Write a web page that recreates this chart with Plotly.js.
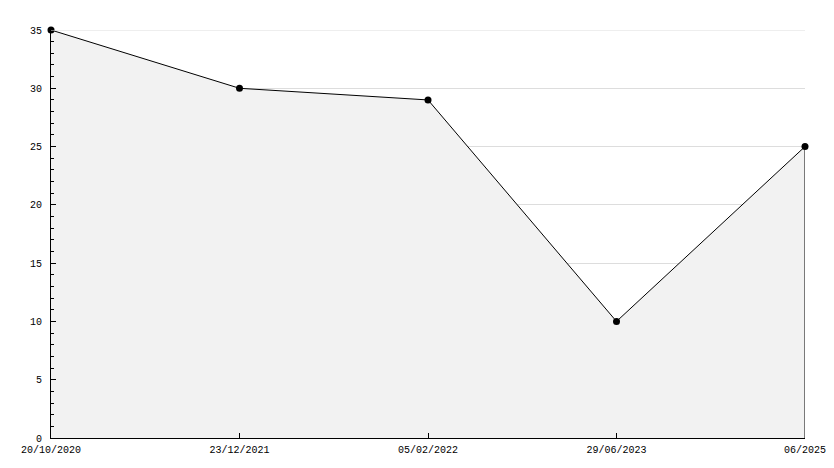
<!DOCTYPE html>
<html>
<head>
<meta charset="utf-8">
<script src="https://cdn.plot.ly/plotly-3.0.1.min.js"></script>
<style>html,body{margin:0;padding:0;background:#fff;}#chart{width:834px;height:468px;}</style>
</head>
<body>
<div id="chart"></div>
<script>
const categories = ["20/10/2020", "23/12/2021", "05/02/2022", "29/06/2023", "06/2025"];
const values = [35, 30, 29, 10, 25];
const yMax = 35;

const firstCat = categories[0];
const lastCat = categories[categories.length - 1];
const lastVal = values[values.length - 1];

const traces = [
  {
    x: categories, y: values, type: "scatter", mode: "lines+markers",
    fill: "tozeroy", fillcolor: "#f2f2f2",
    line: {color: "#000", width: 1},
    marker: {color: "#000", size: 7, symbol: "circle"},
    cliponaxis: false,
    hoverinfo: "x+y"
  },
  {
    x: [firstCat, lastCat], y: [yMax, yMax], type: "scatter", mode: "lines",
    line: {color: "#dddddd", width: 1}, hoverinfo: "skip"
  },
  {
    x: [lastCat, lastCat], y: [0, lastVal], type: "scatter", mode: "lines",
    line: {color: "#000", width: 1}, hoverinfo: "skip", cliponaxis: false
  }
];

const tf = {family: "Liberation Mono, monospace", size: 10, color: "#000"};

const layout = {
  width: 834, height: 468,
  margin: {l: 51, r: 29, t: 30, b: 30},
  paper_bgcolor: "#fff", plot_bgcolor: "#fff",
  showlegend: false,
  font: tf,
  xaxis: {
    type: "category", categoryorder: "array", categoryarray: categories,
    range: [0, categories.length - 1],
    showgrid: false, zeroline: false,
    showline: true, linecolor: "#000", linewidth: 1,
    ticks: "inside", ticklen: 5, tickcolor: "#000",
    ticklabelstandoff: 2,
    tickfont: tf
  },
  yaxis: {
    range: [0, yMax], dtick: 5, tick0: 0,
    showgrid: true, gridcolor: "#dddddd", gridwidth: 1,
    zeroline: false,
    showline: true, linecolor: "#000", linewidth: 1,
    ticks: "inside", ticklen: 5, tickcolor: "#000",
    ticklabelstandoff: 6,
    minor: {dtick: 1, ticks: "inside", ticklen: 3, tickcolor: "#000", showgrid: false},
    tickfont: tf
  }
};

Plotly.newPlot("chart", traces, layout, {displayModeBar: false, staticPlot: true});
</script>
</body>
</html>
